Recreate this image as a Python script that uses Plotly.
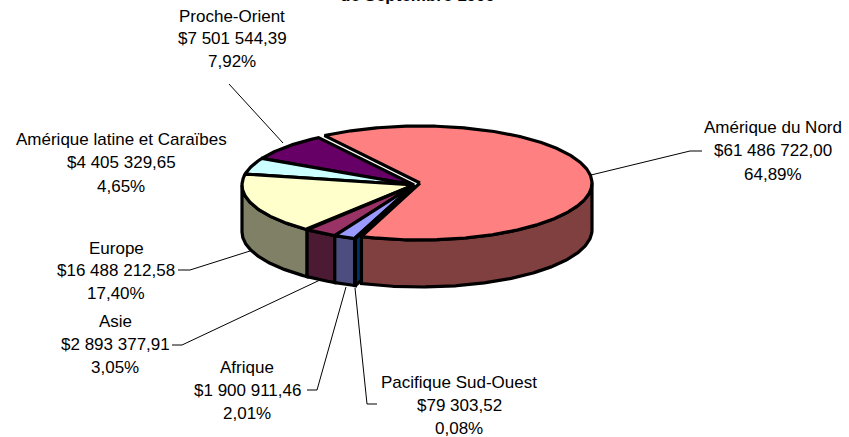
import numpy as np
import plotly.graph_objects as go

# ---- data ----
categories = ["Amérique du Nord", "Pacifique Sud-Ouest", "Afrique", "Asie", "Europe",
              "Amérique latine et Caraïbes", "Proche-Orient"]
amounts = [61486722.00, 79303.52, 1900911.46, 2893377.91, 16488212.58, 4405329.65, 7501544.39]
amount_labels = ["$61 486 722,00", "$79 303,52", "$1 900 911,46", "$2 893 377,91",
                 "$16 488 212,58", "$4 405 329,65", "$7 501 544,39"]
percent_labels = ["64,89%", "0,08%", "2,01%", "3,05%", "17,40%", "4,65%", "7,92%"]
top_colors = ["#FF8080", "#0066CC", "#9999FF", "#993366", "#FFFFCC", "#CCFFFF", "#660066"]
wall_colors = ["#804040", "#003366", "#4D4D80", "#4D1A33", "#808066", "#668080", "#330033"]
title_text = "de Septembre 1999"

# ---- layout constants (pixels) ----
W, H = 849, 437
RX, RY, DEPTH = 172, 57, 47
START_DEG = -33.7
CENTERS = {0: (420, 183)}          # exploded main slice
DEFAULT_CENTER = (414, 185)
LW = 3.2
FS = 17
# label centre x, first/second/third line y
LABEL_POS = {0: (773, (127, 150, 174)), 1: (459, (382, 405, 428)), 2: (247, (367, 390, 413)),
             3: (115, (321, 344, 367)), 4: (116, (248, 270, 293)), 5: (121, (139, 162, 186)),
             6: (232, (16, 38, 61))}
LEADERS = {0: [(702, 151), (690, 151), (591, 175)], 1: [(377, 404), (367, 404), (355, 288)],
           2: [(307, 390), (317, 390), (346, 287)], 3: [(172, 345), (182, 345), (320, 280)],
           4: [(178, 270), (190, 270), (250, 251)], 6: [(229, 84), (283, 143)]}

total = sum(amounts)
sweeps = [a / total * 360 for a in amounts]
edges = START_DEG + np.concatenate([[0], np.cumsum(sweeps)])


def rim(c, deg):
    t = np.radians(deg)
    return c[0] + RX * np.sin(t), c[1] - RY * np.cos(t)


fig = go.Figure()


def poly(xs, ys, fill):
    fig.add_trace(go.Scatter(x=list(xs), y=list(ys), mode="lines", fill="toself", fillcolor=fill,
                             line=dict(color="black", width=LW, shape="linear"),
                             hoverinfo="skip", showlegend=False))


def arc(c, a, b):
    n = max(2, int(abs(b - a) * 2))
    return rim(c, np.linspace(a, b, n))


# walls first, back to front
for i in [5, 6, 4, 3, 2, 1, 0]:
    c = CENTERS.get(i, DEFAULT_CENTER)
    a, b = edges[i], edges[i + 1]
    # radial cut face of the slice that borders the exploded one
    if i == 1:
        x0, y0 = rim(c, a)
        poly([x0, c[0], c[0], x0, x0], [y0, c[1], c[1] + DEPTH, y0 + DEPTH, y0], wall_colors[i])
    # visible outer wall: portion of arc on the front half
    lo, hi = max(a, 90), min(b, 270)
    if hi > lo:
        x, y = arc(c, lo, hi)
        poly(np.r_[x, x[::-1], x[0]], np.r_[y, y[::-1] + DEPTH, y[0]], wall_colors[i])

# top faces
for i in [6, 5, 4, 3, 2, 1, 0]:
    c = CENTERS.get(i, DEFAULT_CENTER)
    x, y = arc(c, edges[i], edges[i + 1])
    poly(np.r_[c[0], x, c[0]], np.r_[c[1], y, c[1]], top_colors[i])

annotations = []
for i, (cx, ys) in LABEL_POS.items():
    for txt, yy in zip((categories[i], amount_labels[i], percent_labels[i]), ys):
        annotations.append(dict(x=cx, y=yy, text=txt, showarrow=False, xanchor="center", yanchor="middle",
                                font=dict(family="Liberation Sans", size=FS, color="black")))
annotations.append(dict(x=417, xref="x", y=1, yref="paper", yshift=5, text=title_text, showarrow=False,
                        xanchor="center", yanchor="middle",
                        font=dict(family="Liberation Sans", size=FS, color="black", weight="bold")))

shapes = []
for pts in LEADERS.values():
    for p, q in zip(pts[:-1], pts[1:]):
        shapes.append(dict(type="line", x0=p[0], y0=p[1], x1=q[0], y1=q[1],
                           line=dict(color="black", width=1), layer="below"))

fig.update_layout(width=W, height=H, margin=dict(l=0, r=0, t=0, b=0), paper_bgcolor="white",
                  plot_bgcolor="white", showlegend=False, annotations=annotations, shapes=shapes,
                  xaxis=dict(range=[0, W], visible=False, fixedrange=True),
                  yaxis=dict(range=[H, 0], visible=False, fixedrange=True))
fig.write_html("out.html", config=dict(displayModeBar=False),
               post_script="document.body.style.margin='0';document.body.style.overflow='hidden';")
